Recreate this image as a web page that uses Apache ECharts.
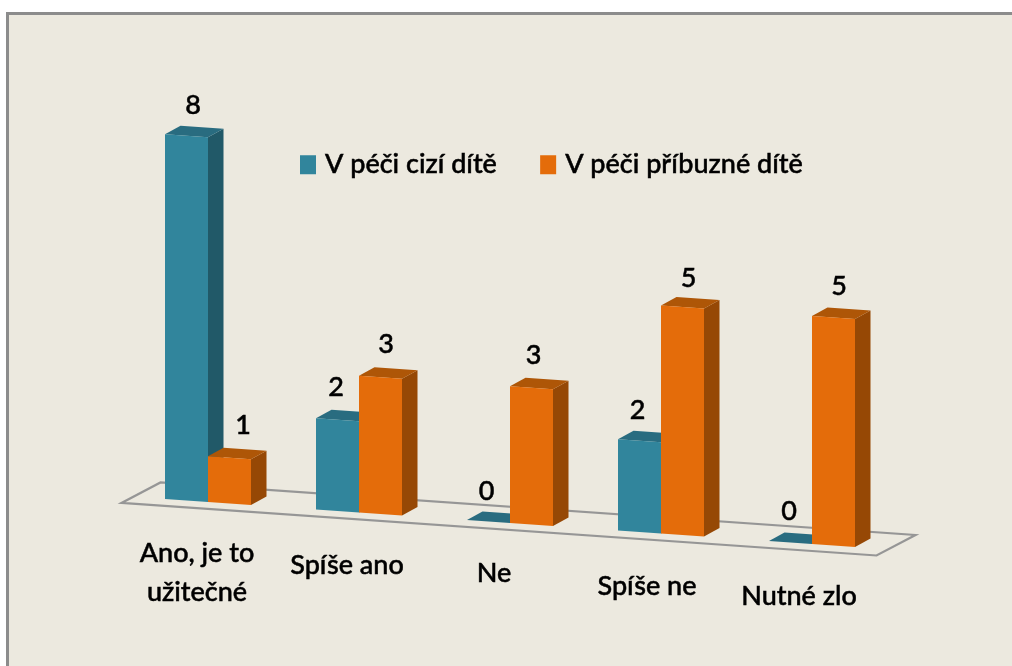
<!DOCTYPE html>
<html><head><meta charset="utf-8">
<style>html,body{margin:0;padding:0;background:#fff}#c{width:1012px;height:666px}</style>
<script src="https://cdn.jsdelivr.net/npm/echarts@6/dist/echarts.min.js"></script>
</head><body><div id="c"></div>
<script>
const categories = ['Ano, je to\nužitečné', 'Spíše ano', 'Ne', 'Spíše ne', 'Nutné zlo'];
const seriesNames = ['V péči cizí dítě', 'V péči příbuzné dítě'];
const cizi = [8, 2, 0, 2, 0];
const pribuzne = [1, 3, 3, 5, 5];

// hand-placed label nudges, as in the source chart [dx, dy]
const ciziLabelNudge = [[6.5, -29], [-1.5, -31], [-2, -29], [-2, -29], [-1.5, -30]];
const pribuzneLabelNudge = [[13.5, -31], [5.5, -31], [2, -31], [6, -27], [5.5, -30]];
const catLabelNudge = [[-11, 31.5], [-12, 33], [-16, 30.5], [-14, 33], [-13, 32.5]];

const FLOOR_SLOPE = 0.0696, DEPTH_X = 15.5, DEPTH_Y = -8.5, BAR_FRAC = 43 / 151;
const FONT = '"Lato","Noto Sans",sans-serif';
const FONT_SIZE = 27, FONT_WEIGHT = 500, TEXT_STROKE = 0.5;
const BLUE = {front: '#31859C', side: '#215968', top: '#296C80'};
const ORANGE = {front: '#E46C0A', side: '#964805', top: '#AE5607'};

function base(params, x) { return (x - params.coordSys.x) * FLOOR_SLOPE; }

function barRender(colors, side, nudge) {
  return function (params, api) {
    const i = api.value(0), v = api.value(1);
    const c = api.coord([i, v]), z = api.coord([i, 0]);
    const w = api.size([1, 0])[0] * BAR_FRAC;
    const x0 = side < 0 ? c[0] - w : c[0], x1 = x0 + w;
    const s0 = base(params, x0), s1 = base(params, x1);
    const tl = [x0, c[1] + s0], tr = [x1, c[1] + s1], bl = [x0, z[1] + s0], br = [x1, z[1] + s1];
    const d = p => [p[0] + DEPTH_X, p[1] + DEPTH_Y];
    const poly = (pts, fill) => ({type: 'polygon', shape: {points: pts}, style: {fill: fill}});
    const children = [];
    if (v > 0) children.push(poly([tr, d(tr), d(br), br], colors.side));
    children.push(poly([tl, d(tl), d(tr), tr], colors.top));
    if (v > 0) children.push(poly([tl, tr, br, bl], colors.front));
    children.push({type: 'text', z2: 10, style: {
      text: String(v), x: (x0 + x1) / 2 + nudge[i][0], y: tl[1] + nudge[i][1],
      align: 'center', verticalAlign: 'middle', fill: '#000', stroke: '#000', lineWidth: TEXT_STROKE,
      font: FONT_WEIGHT + ' ' + FONT_SIZE + 'px ' + FONT}});
    return {type: 'group', children: children};
  };
}

function floorRender(params, api) {
  const cs = params.coordSys, y0 = cs.y + cs.height;
  const fl = [cs.x - 11, y0 + base(params, cs.x - 11) + 7];
  const fr = [fl[0] + cs.width, fl[1] + cs.width * FLOOR_SLOPE];
  const k = p => [p[0] + 39, p[1] - 20.5];
  return {type: 'polygon', shape: {points: [fl, fr, k(fr), k(fl)]},
    style: {fill: 'none', stroke: '#969696', lineWidth: 2.2}};
}

function catRender(params, api) {
  const i = api.value(0), z = api.coord([i, 0]);
  const n = catLabelNudge[i];
  return {type: 'text', z2: 10, style: {
    text: categories[i], x: z[0] + n[0], y: z[1] + base(params, z[0]) + n[1],
    align: 'center', verticalAlign: 'top', lineHeight: 39, fill: '#000', stroke: '#000', lineWidth: TEXT_STROKE,
    font: FONT_WEIGHT + ' ' + FONT_SIZE + 'px ' + FONT}};
}

const chart = echarts.init(document.getElementById('c'), null, {renderer: 'canvas'});
chart.setOption({
  animation: false,
  backgroundColor: '#fff',
  graphic: [{type: 'rect', z: -10, shape: {x: 7.5, y: 13.5, width: 1100, height: 800},
    style: {fill: '#ECE9DF', stroke: '#8C8C8C', lineWidth: 3}}],
  grid: {left: 132.5, right: 124.5, top: 131.9, bottom: 666 - 496.7, containLabel: false},
  xAxis: {type: 'category', data: categories, show: false},
  yAxis: {type: 'value', min: 0, max: 8, show: false},
  legend: {left: 300, top: 151, padding: 0, itemWidth: 16, itemHeight: 19, itemGap: 43, icon: 'rect',
    data: seriesNames, selectedMode: false,
    textStyle: {fontFamily: FONT, fontSize: FONT_SIZE, fontWeight: FONT_WEIGHT, color: '#000', padding: [0, 0, 0, 4],
      textBorderColor: '#000', textBorderWidth: TEXT_STROKE}},
  series: [
    {type: 'custom', silent: true, renderItem: floorRender, data: [[0, 0]], encode: {x: 0, y: 1}, z: 1},
    {type: 'custom', name: seriesNames[0], silent: true, itemStyle: {color: BLUE.front},
      renderItem: barRender(BLUE, -1, ciziLabelNudge), data: cizi.map((v, i) => [i, v]), encode: {x: 0, y: 1}, z: 2},
    {type: 'custom', name: seriesNames[1], silent: true, itemStyle: {color: ORANGE.front},
      renderItem: barRender(ORANGE, 1, pribuzneLabelNudge), data: pribuzne.map((v, i) => [i, v]), encode: {x: 0, y: 1}, z: 3},
    {type: 'custom', silent: true, renderItem: catRender, data: categories.map((c, i) => [i, 0]), encode: {x: 0, y: 1}, z: 4}
  ]
});
</script></body></html>
